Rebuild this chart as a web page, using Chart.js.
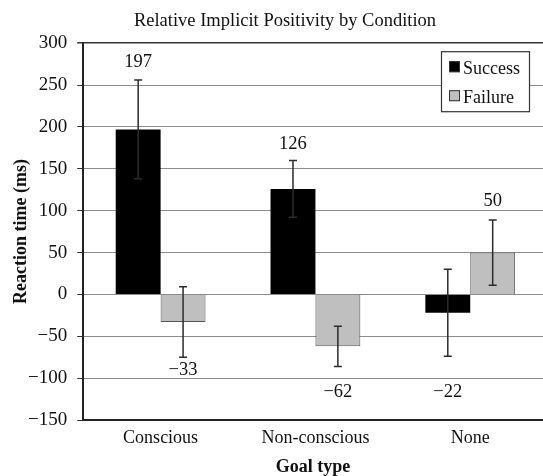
<!DOCTYPE html>
<html>
<head>
<meta charset="utf-8">
<script src="https://cdn.jsdelivr.net/npm/chart.js@4.4.1/dist/chart.umd.min.js"></script>
<style>
    html, body { margin: 0; padding: 0; background: #fff; }
</style>
</head>
<body>
<canvas id="rtChart" width="543" height="476"></canvas>
<script>
let categories = ['Conscious', 'Non-conscious', 'None'];
let successValues = [197, 126, -22];
let failureValues = [-33, -62, 50];
let successErrors = [59, 34, 52];
let failureErrors = [42, 24, 39];
let yTicks = [-150, -100, -50, 0, 50, 100, 150, 200, 250, 300];

const SERIF = '"Liberation Serif", "Times New Roman", serif';
const INK = '#111';

// distance (px) between whisker end and its value label, per dataset
let labelGap = [[18, 16, 36], [13, 26, 19]];

function fmt(v) {
    return v < 0 ? '\u2212' + Math.abs(v) : String(v);
}

// bars sit on a linear index axis so the plot can run past the right edge
function toPoints(values) {
    return values.map((v, i) => ({ x: i, y: v }));
}

const errorBars = {
    id: 'errorBars',
    afterDatasetsDraw(chart) {
        let ctx = chart.ctx;
        let y = chart.scales.y;
        ctx.save();
        ctx.strokeStyle = '#2b2b2b';
        ctx.lineWidth = 1.5;
        chart.data.datasets.forEach((ds, i) => {
            chart.getDatasetMeta(i).data.forEach((bar, j) => {
                let v = ds.data[j].y, e = ds.errors[j];
                let top = y.getPixelForValue(v + e);
                let bot = y.getPixelForValue(v - e);
                ctx.beginPath();
                ctx.moveTo(bar.x, top); ctx.lineTo(bar.x, bot);
                ctx.moveTo(bar.x - 4, top); ctx.lineTo(bar.x + 4, top);
                ctx.moveTo(bar.x - 4, bot); ctx.lineTo(bar.x + 4, bot);
                ctx.stroke();
            });
        });
        ctx.restore();
    }
};

const valueLabels = {
    id: 'valueLabels',
    afterDatasetsDraw(chart) {
        let ctx = chart.ctx;
        let y = chart.scales.y;
        ctx.save();
        ctx.fillStyle = INK;
        ctx.font = '18.5px ' + SERIF;
        ctx.textAlign = 'center';
        ctx.textBaseline = 'middle';
        chart.data.datasets.forEach((ds, i) => {
            chart.getDatasetMeta(i).data.forEach((bar, j) => {
                let v = ds.data[j].y, e = ds.errors[j];
                let gap = labelGap[i][j];
                let py = v >= 0 ? y.getPixelForValue(v + e) - gap : y.getPixelForValue(v - e) + gap;
                ctx.fillText(fmt(v), bar.x, py);
            });
        });
        ctx.restore();
    }
};

const boxLegend = {
    id: 'boxLegend',
    afterDraw(chart) {
        let ctx = chart.ctx;
        let area = chart.chartArea;
        let bx = area.right - 102, by = area.top + 8, bw = 88, bh = 60;
        ctx.save();
        ctx.fillStyle = '#fff';
        ctx.fillRect(bx, by, bw, bh);
        ctx.strokeStyle = '#333';
        ctx.lineWidth = 1.2;
        ctx.strokeRect(bx + 0.5, by + 0.5, bw, bh);
        ctx.font = '18px ' + SERIF;
        ctx.textBaseline = 'middle';
        ctx.textAlign = 'left';
        chart.data.datasets.forEach((ds, i) => {
            let rowY = by + 18 + i * 29;
            ctx.fillStyle = ds.backgroundColor;
            ctx.fillRect(bx + 8, rowY - 8, 11, 11);
            ctx.strokeStyle = '#333';
            ctx.lineWidth = 1;
            ctx.strokeRect(bx + 8.5, rowY - 7.5, 10, 10);
            ctx.fillStyle = INK;
            ctx.fillText(ds.label, bx + 22, rowY);
        });
        ctx.restore();
    }
};

new Chart(document.getElementById('rtChart'), {
    type: 'bar',
    data: {
        datasets: [
            {
                label: 'Success',
                data: toPoints(successValues),
                errors: successErrors,
                backgroundColor: '#000000',
                borderWidth: 0
            },
            {
                label: 'Failure',
                data: toPoints(failureValues),
                errors: failureErrors,
                backgroundColor: '#bfbfbf',
                borderColor: '#555555',
                borderWidth: 1
            }
        ]
    },
    options: {
        responsive: false,
        animation: false,
        devicePixelRatio: 1,
        categoryPercentage: 0.58,
        barPercentage: 1,
        layout: { padding: { left: 0, right: -27, top: 0, bottom: 0 } },
        plugins: {
            legend: { display: false },
            tooltip: { enabled: false },
            title: {
                display: true,
                text: 'Relative Implicit Positivity by Condition',
                color: INK,
                font: { family: SERIF, size: 18.5, weight: 'normal', lineHeight: 1.2 },
                padding: { top: 10, bottom: 11 }
            }
        },
        scales: {
            x: {
                type: 'linear',
                min: -0.5,
                max: 2.47,
                offset: false,
                afterBuildTicks: scale => {
                    scale.ticks = categories.map((c, i) => ({ value: i }));
                },
                grid: { display: false, drawTicks: false, offset: false },
                border: { display: true, color: '#222', width: 2 },
                ticks: {
                    color: INK,
                    font: { family: SERIF, size: 18 },
                    padding: 7,
                    maxRotation: 0,
                    autoSkip: false,
                    callback: v => categories[v]
                },
                title: {
                    display: true,
                    text: 'Goal type',
                    color: INK,
                    font: { family: SERIF, size: 18, weight: 'bold', lineHeight: 1 },
                    padding: { top: 2.4, bottom: 0 }
                }
            },
            y: {
                min: -150,
                max: 300,
                afterBuildTicks: scale => {
                    scale.ticks = yTicks.map(v => ({ value: v }));
                },
                ticks: {
                    color: INK,
                    font: { family: SERIF, size: 19 },
                    padding: 10,
                    callback: v => fmt(v)
                },
                grid: {
                    color: c => (c.tick && c.tick.value === 300) ? '#333' : '#8c8c8c',
                    lineWidth: c => (c.tick && c.tick.value === 300) ? 1.5 : 1,
                    tickColor: '#333',
                    tickLength: 6,
                    drawTicks: true
                },
                border: { display: true, color: '#222', width: 2 },
                title: {
                    display: true,
                    text: 'Reaction time (ms)',
                    color: INK,
                    font: { family: SERIF, size: 18, weight: 'bold', lineHeight: 1 },
                    padding: { top: 12, bottom: -12 }
                }
            }
        }
    },
    plugins: [errorBars, valueLabels, boxLegend]
});
</script>
</body>
</html>
